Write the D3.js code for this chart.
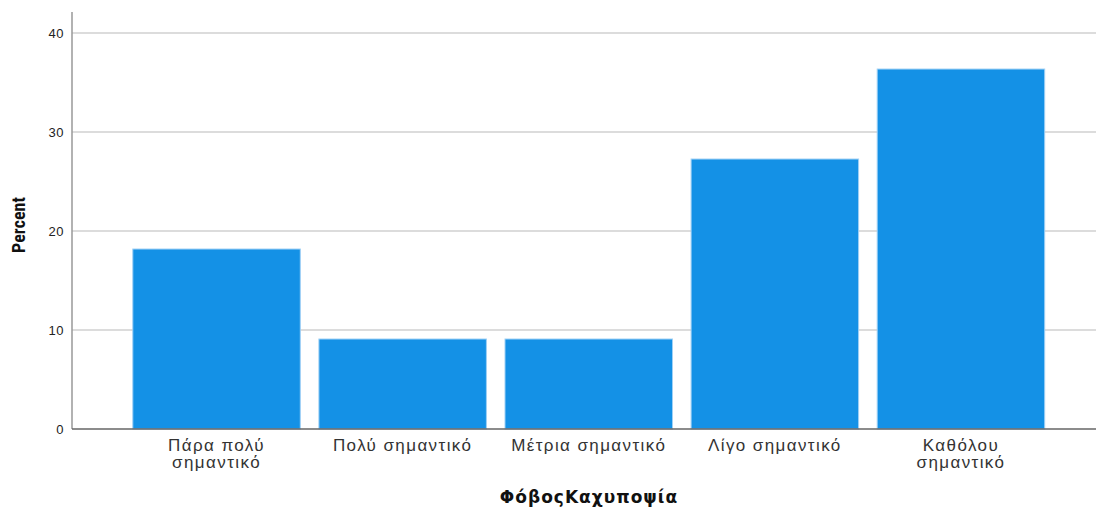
<!DOCTYPE html>
<html>
<head>
<meta charset="utf-8">
<script src="https://cdn.jsdelivr.net/npm/d3@7"></script>
<style>
  body { margin: 0; background: #fff; }
  text { font-family: "Liberation Sans", Arial, sans-serif; }
</style>
</head>
<body>
<div id="chart"></div>
<script>
// data
var categories = [["Πάρα πολύ", "σημαντικό"], ["Πολύ σημαντικό"], ["Μέτρια σημαντικό"], ["Λίγο σημαντικό"], ["Καθόλου", "σημαντικό"]];
var percents = [18.18, 9.09, 9.09, 27.27, 36.36];
var yTicks = [0, 10, 20, 30, 40];

var width = 1096, height = 509;

var svg = d3.select("#chart").append("svg")
    .attr("width", width)
    .attr("height", height);

var x = d3.scaleBand()
    .domain(d3.range(percents.length))
    .range([123.5, 1054])
    .paddingInner(0.1)
    .paddingOuter(0.05);

var y = d3.scaleLinear()
    .domain([0, 40])
    .range([429, 33]);

// gridlines
svg.append("g").selectAll("line")
    .data(yTicks.filter(function(d) { return d > 0; }))
  .enter().append("line")
    .attr("x1", 72).attr("x2", width)
    .attr("y1", function(d) { return y(d); })
    .attr("y2", function(d) { return y(d); })
    .style("stroke", "#d0d0d0")
    .style("stroke-width", 1.5);

// bars
svg.append("g").selectAll("rect")
    .data(percents)
  .enter().append("rect")
    .attr("x", function(d, i) { return x(i); })
    .attr("y", function(d) { return y(d); })
    .attr("width", x.bandwidth())
    .attr("height", function(d) { return y(0) - y(d); })
    .style("fill", "#1491e6")
    .style("stroke", "#9fd0f5")
    .style("stroke-width", 1);

// y axis
var yAxis = svg.append("g")
    .attr("transform", "translate(72,0)")
    .call(d3.axisLeft(y).tickValues(yTicks).tickSize(0).tickPadding(8));
yAxis.select(".domain").remove();
yAxis.selectAll("text")
    .style("font-family", "'Liberation Sans', Arial, sans-serif")
    .style("font-size", "13px")
    .style("letter-spacing", "0.5px")
    .style("fill", "#222");
svg.append("line")
    .attr("x1", 72).attr("x2", 72)
    .attr("y1", 12).attr("y2", 429)
    .style("stroke", "#999")
    .style("stroke-width", 1.5);

// x baseline
svg.append("line")
    .attr("x1", 72).attr("x2", width)
    .attr("y1", 429).attr("y2", 429)
    .style("stroke", "#666")
    .style("stroke-width", 1.5);

// category labels
var labels = svg.append("g").selectAll("text")
    .data(categories)
  .enter().append("text")
    .attr("text-anchor", "middle")
    .attr("x", function(d, i) { return x(i) + x.bandwidth() / 2; })
    .attr("y", 451)
    .style("font-size", "17px")
    .style("letter-spacing", "1.4px")
    .style("fill", "#333");
labels.selectAll("tspan")
    .data(function(d) { return d; })
  .enter().append("tspan")
    .attr("x", function() { return d3.select(this.parentNode).attr("x"); })
    .attr("dy", function(d, i) { return i === 0 ? 0 : 17; })
    .text(function(d) { return d; });

// axis titles
svg.append("text")
    .attr("x", 589)
    .attr("y", 503)
    .attr("text-anchor", "middle")
    .style("font-family", "'DejaVu Sans', Verdana, sans-serif")
    .style("font-size", "17px")
    .style("letter-spacing", "1px")
    .style("font-weight", "bold")
    .style("fill", "#111")
    .text("ΦόβοςΚαχυποψία");

svg.append("text")
    .attr("transform", "translate(25,225) rotate(-90)")
    .attr("text-anchor", "middle")
    .style("font-size", "18px")
    .style("font-weight", "bold")
    .style("font-family", "'Liberation Sans Narrow', 'Roboto Condensed', 'Liberation Sans', sans-serif")
    .style("font-stretch", "condensed")
    .style("fill", "#111")
    .text("Percent");
</script>
</body>
</html>
